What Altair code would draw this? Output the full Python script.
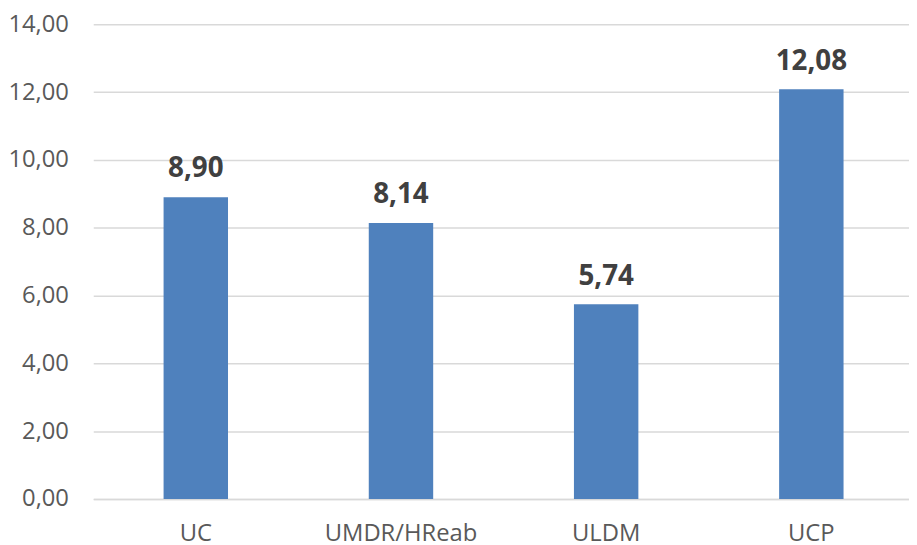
import altair as alt
import pandas as pd

categories = ["UC", "UMDR/HReab", "ULDM", "UCP"]
values = [8.90, 8.14, 5.74, 12.08]
y_ticks = [0, 2, 4, 6, 8, 10, 12, 14]

df = pd.DataFrame({"cat": categories, "val": values})

FONT = "Open Sans"

x = alt.X("cat:N", sort=categories, title=None,
          scale=alt.Scale(paddingInner=0.686, paddingOuter=0.3309, align=0.518),
          axis=alt.Axis(labelAngle=0, labelFont=FONT, labelFontSize=24,
                        labelColor="#595959", ticks=False, domainColor="#D9D9D9",
                        domainWidth=1.5, labelPadding=42, labelBaseline="alphabetic"))
y = alt.Y("val:Q", title=None,
          scale=alt.Scale(domain=[0, 14], nice=False),
          axis=alt.Axis(values=y_ticks, labelExpr="replace(format(datum.value, '.2f'), '.', ',')",
                        labelFont=FONT, labelFontSize=24, labelColor="#595959",
                        ticks=False, domain=False, gridColor="#D9D9D9", gridWidth=1.5,
                        labelPadding=25))

base = alt.Chart(df)
bars = base.mark_bar(color="#4F81BD").encode(x=x, y=y)
labels = base.transform_calculate(
    lbl="replace(format(datum.val, '.2f'), '.', ',')"
).mark_text(font=FONT, fontSize=28, fontWeight="bold", color="#404040",
            baseline="alphabetic", dy=-20).encode(x=x, y=y, text="lbl:N")

chart = (bars + labels).properties(
    width=823, height=479,
    autosize=alt.AutoSizeParams(type="none"),
    padding={"left": 86, "top": 14, "right": 0, "bottom": 44},
).configure_view(stroke=None)

chart.save("out.html", embed_options={"renderer": "svg", "actions": False})
